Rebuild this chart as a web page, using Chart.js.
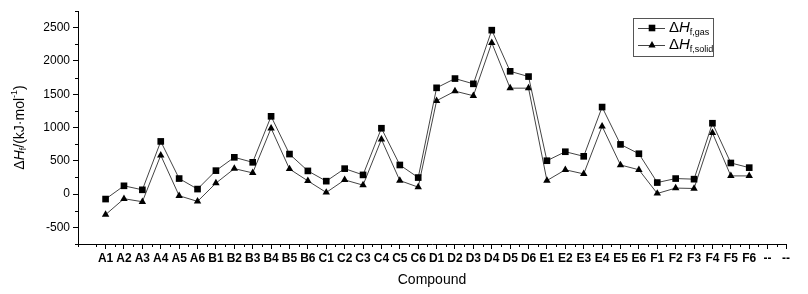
<!DOCTYPE html>
<html lang="en">
  <head>
    <meta charset="utf-8" />
    <title>Heats of formation</title>
    <style>
      * {
        margin: 0;
        padding: 0;
      }
      body {
        background: #fff;
      }
      .chartBox {
        width: 808px;
        height: 294px;
      }
    </style>
  </head>
  <body>
    <div class="chartBox">
      <canvas id="myChart"></canvas>
    </div>

    <script src="https://cdn.jsdelivr.net/npm/chart.js@4/dist/chart.umd.min.js"></script>

    <script>
      // data block
      const compounds = [
        "A1", "A2", "A3", "A4", "A5", "A6",
        "B1", "B2", "B3", "B4", "B5", "B6",
        "C1", "C2", "C3", "C4", "C5", "C6",
        "D1", "D2", "D3", "D4", "D5", "D6",
        "E1", "E2", "E3", "E4", "E5", "E6",
        "F1", "F2", "F3", "F4", "F5", "F6",
        "--", "--",
      ];
      const hGas = [
        -75, 124, 64, 791, 233, 75,
        352, 552, 477, 1168, 601, 348,
        194, 382, 288, 989, 437, 248,
        1596, 1735, 1656, 2462, 1844, 1765,
        501, 636, 567, 1307, 746, 606,
        173, 233, 224, 1064, 467, 397,
      ];
      const hSolid = [
        -309, -70, -115, 582, -25, -110,
        164, 382, 318, 989, 377, 198,
        24, 213, 134, 821, 203, 104,
        1402, 1546, 1477, 2272, 1591, 1591,
        203, 365, 303, 1019, 437, 365,
        9, 90, 84, 919, 273, 273,
      ];
      const yTicks = [-500, 0, 500, 1000, 1500, 2000, 2500];

      const FONT = "'Liberation Sans', Arial, sans-serif";

      // ΔH with subscript, left aligned at (x, y)
      function drawDeltaH(ctx, x, y, size, sub) {
        ctx.textBaseline = "middle";
        ctx.textAlign = "left";
        ctx.font = `${size}px ${FONT}`;
        ctx.fillText("\u0394", x, y);
        x += ctx.measureText("\u0394").width;
        ctx.font = `italic ${size}px ${FONT}`;
        ctx.fillText("H", x, y);
        x += ctx.measureText("H").width;
        const s = Math.round(size * 0.6);
        ctx.font = `${s}px ${FONT}`;
        ctx.fillText(sub, x, y + size * 0.32);
        return x + ctx.measureText(sub).width;
      }

      function marker(ctx, style, x, y) {
        ctx.beginPath();
        if (style === "rect") {
          ctx.rect(x - 3.3, y - 3.3, 6.6, 6.6);
        } else {
          ctx.moveTo(x, y - 4);
          ctx.lineTo(x + 3.6, y + 2.4);
          ctx.lineTo(x - 3.6, y + 2.4);
          ctx.closePath();
        }
        ctx.fill();
      }

      // minor ticks, axis titles and legend
      const decorations = {
        id: "decorations",
        afterDraw(chart) {
          const { ctx, chartArea, scales } = chart;
          const { left, right, top, bottom } = chartArea;
          ctx.save();
          ctx.strokeStyle = "#000";
          ctx.lineWidth = 1;
          ctx.beginPath();
          for (let v = -750; v <= 2750; v += 250) {
            if (v % 500 === 0) continue;
            const py = Math.round(scales.y.getPixelForValue(v)) + 0.5;
            ctx.moveTo(left - 3, py);
            ctx.lineTo(left, py);
          }
          for (let i = -1.5; i <= 37; i += 1) {
            const px = Math.round(scales.x.getPixelForValue(i)) + 0.5;
            ctx.moveTo(px, bottom);
            ctx.lineTo(px, bottom + 3);
          }
          ctx.stroke();

          // x title
          ctx.fillStyle = "#000";
          ctx.font = `14px ${FONT}`;
          ctx.textAlign = "center";
          ctx.textBaseline = "middle";
          ctx.fillText("Compound", (left + right) / 2, 280);

          // y title, rotated
          ctx.save();
          ctx.translate(20, (top + bottom) / 2);
          ctx.rotate(-Math.PI / 2);
          const parts = ["\u0394", "H", "f", "/(kJ\u00b7mol", "-1", ")"];
          const fonts = [
            `14px ${FONT}`, `italic 14px ${FONT}`, `9px ${FONT}`,
            `14px ${FONT}`, `9px ${FONT}`, `14px ${FONT}`,
          ];
          const offs = [0, 0, 4, 0, -5, 0];
          let w = 0;
          parts.forEach((p, i) => {
            ctx.font = fonts[i];
            w += ctx.measureText(p).width;
          });
          let x = -w / 2;
          ctx.textAlign = "left";
          parts.forEach((p, i) => {
            ctx.font = fonts[i];
            ctx.fillText(p, x, offs[i]);
            x += ctx.measureText(p).width;
          });
          ctx.restore();

          // legend
          const bx = 633, by = 18, bw = 80, bh = 38;
          ctx.strokeStyle = "#555";
          ctx.strokeRect(bx + 0.5, by + 0.5, bw, bh);
          const rows = [
            { y: by + 10, style: "rect", sub: "f,gas" },
            { y: by + 27, style: "triangle", sub: "f,solid" },
          ];
          rows.forEach((r) => {
            ctx.strokeStyle = "#444";
            ctx.beginPath();
            ctx.moveTo(bx + 5, r.y + 0.5);
            ctx.lineTo(bx + 32, r.y + 0.5);
            ctx.stroke();
            ctx.fillStyle = "#000";
            marker(ctx, r.style, bx + 19, r.y);
            drawDeltaH(ctx, bx + 36, r.y, 15, r.sub);
          });
          ctx.restore();
        },
      };

      const toPoints = (arr) => arr.map((v, i) => ({ x: i, y: v }));

      // config block
      const config = {
        type: "line",
        data: {
          datasets: [
            {
              label: "gas",
              data: toPoints(hGas),
              borderColor: "#444",
              borderWidth: 1,
              pointStyle: "rect",
              pointRadius: 4.7,
              pointBackgroundColor: "#000",
              pointBorderColor: "#000",
              pointBorderWidth: 0,
            },
            {
              label: "solid",
              data: toPoints(hSolid),
              borderColor: "#444",
              borderWidth: 1,
              pointStyle: "triangle",
              pointRadius: 4.3,
              pointBackgroundColor: "#000",
              pointBorderColor: "#000",
              pointBorderWidth: 0,
            },
          ],
        },
        options: {
          responsive: true,
          maintainAspectRatio: false,
          animation: false,
          layout: { padding: { top: 11, right: 22, left: 0, bottom: 0 } },
          plugins: {
            legend: { display: false },
            tooltip: { enabled: false },
          },
          scales: {
            x: {
              type: "linear",
              min: -1.5,
              max: 37,
              afterBuildTicks: (scale) => {
                scale.ticks = compounds.map((c, i) => ({ value: i }));
              },
              afterFit: (scale) => {
                scale.height = 50;
              },
              grid: {
                drawOnChartArea: false,
                tickLength: 5,
                tickColor: "#000",
              },
              border: { color: "#000", width: 1 },
              ticks: {
                autoSkip: false,
                maxRotation: 0,
                padding: 2,
                color: "#000",
                font: { family: FONT, size: 12, weight: "bold" },
                callback: (v) => compounds[v] ?? "",
              },
            },
            y: {
              min: -750,
              max: 2750,
              afterBuildTicks: (scale) => {
                scale.ticks = yTicks.map((v) => ({ value: v }));
              },
              afterFit: (scale) => {
                scale.width = 78;
              },
              grid: {
                drawOnChartArea: false,
                tickLength: 5,
                tickColor: "#000",
              },
              border: { color: "#000", width: 1 },
              ticks: {
                padding: 3,
                color: "#000",
                font: { family: FONT, size: 12 },
                callback: (v) => String(v),
              },
            },
          },
        },
        plugins: [decorations],
      };

      // init render block
      const myChart = new Chart(document.getElementById("myChart"), config);
    </script>
  </body>
</html>
